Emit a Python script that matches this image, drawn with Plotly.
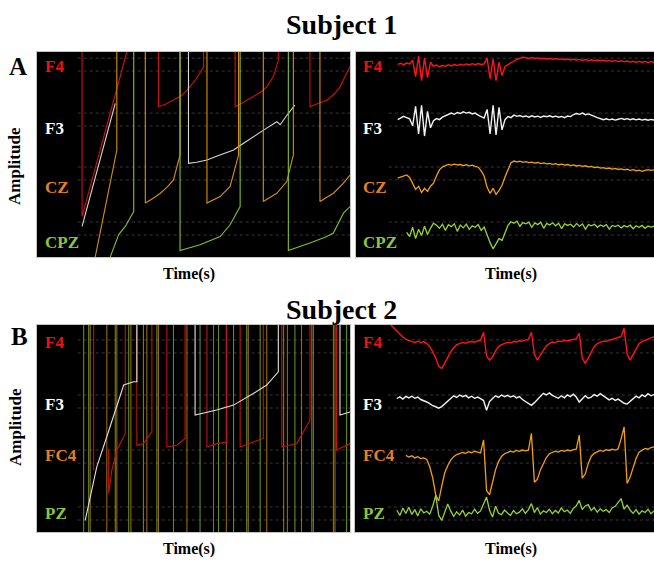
import plotly.graph_objects as go

W, H = 654, 565

# ---------------- Subject 1, right panel (clean EEG) ----------------
a_r_f4_start = 14
a_r_f4 = [94, 94.5, 93.8, 94.6, 94.2,
          96, 88, 98, 86, 97, 87.5, 95,
          93, 93.6, 92.8, 93.4, 93.1, 93.8, 93.2, 93.9, 93.4, 94.0, 93.6, 94.2, 93.7, 94.3, 93.8, 94.4, 93.9, 94.2,
          97, 87, 96.5, 86, 95, 88.5,
          93, 94, 94.8, 95.6, 96.5, 97.2, 97.5,
          97.2, 96.8, 97.3, 96.9, 97.1, 96.6, 97.0, 96.5, 96.9, 96.4, 96.8, 96.3, 96.7, 96.2, 96.6, 96.1, 96.5, 96.0,
          96.4, 95.9, 96.3, 95.8, 96.2, 95.7, 96.1, 95.6, 96.0, 95.5, 95.9, 95.4, 95.8, 95.3, 95.7, 95.2, 95.6, 95.1,
          95.5, 95.0, 95.4, 95.0, 95.4, 94.9, 95.3, 95.0]
a_r_f3_start = 14
a_r_f3 = [67, 67.8, 68.6, 68, 67.4,
          64, 73.5, 60, 74, 59, 71, 63,
          66.5, 67.5, 67.0, 68.2, 69.0, 69.5, 70.2, 69.6, 70.5, 70.0, 70.8, 70.2, 70.6, 69.8, 70.2, 69.2, 68.5, 67.8,
          72, 60, 74, 59.5, 73, 62,
          67, 68.5, 68.0, 69.2, 68.6, 69.0, 68.4,
          68.8, 68.2, 68.9, 68.3, 68.7, 68.1, 68.8, 68.4, 68.9, 68.3, 68.7, 68.2, 68.6, 68.0, 68.8, 68.5, 69.5, 70.0,
          69.6, 70.2, 69.4, 69.8, 69.0, 68.6, 68.0, 67.5, 67.0, 67.4, 66.9, 67.3, 66.8, 67.2, 67.6, 67.1, 67.5, 67.0,
          67.4, 66.9, 67.3, 66.8, 67.2, 66.7, 67.1, 66.8]
a_r_cz_start = 14
a_r_cz = [38.5, 39.0, 39.5, 40.0, 38.8,
          35.5, 33, 34.5, 31.5, 33.5, 32, 34.5,
          36, 39.5, 42.5, 44.0, 44.8,
          45.2, 44.8, 45.3, 44.9, 45.1, 44.6, 45.0, 44.5, 44.8, 44.2, 43.8, 42.0, 39.5,
          34, 31, 33.5, 30.5, 32.5, 35,
          39, 43, 46, 46.8, 46.4, 46.7, 46.2,
          46.5, 46.0, 46.3, 45.8, 46.1, 45.6, 45.9, 45.4, 45.7, 45.2, 45.5, 45.0, 45.3, 44.8, 45.1, 44.6, 44.9, 44.4,
          44.7, 44.2, 44.5, 44.0, 44.2, 43.6, 43.9, 43.4, 43.6, 43.1, 43.4, 42.9, 43.2, 42.7, 43.0, 42.5, 42.8, 42.3,
          42.6, 42.0, 42.4, 41.8, 42.2, 42.6, 42.3, 42.5]
a_r_cpz_start = 17
a_r_cpz = [12, 10, 14.5, 9, 13.5, 10.5, 15, 11, 14,
           16.5, 15.5, 14, 16, 13, 15.8, 14.8, 16.2, 12.5, 15.6, 14.2, 16.0, 13.5, 15.2, 14.5, 15.8, 13.0, 14.6,
           10.5, 7, 4, 6.5, 9, 8, 12,
           15.5, 17.2, 16.5, 17.5, 15.0, 16.8,
           16.2, 17.0, 14.5, 16.6, 15.8, 16.9, 14.0, 16.4, 15.6, 16.7, 15.2, 16.5, 13.8, 16.2, 15.4, 16.0, 14.6, 16.3,
           15.0, 16.1, 13.5, 15.8, 15.2, 16.0, 14.5, 15.6, 14.9, 15.8, 13.6, 15.4, 14.8, 15.5, 14.2, 15.3, 14.6, 15.5,
           13.8, 15.2, 14.5, 15.4, 14.0, 15.1, 14.6, 15.0]

# ---------------- Subject 2, right panel (clean EEG) ----------------
b_r_f4_start = 12
b_r_f4 = [100, 98.5, 97, 95.5, 94.2, 93.2, 92.5, 92.0,
          91.6, 92.2, 91.5, 92.0, 91.0,
          89.5, 87, 84, 80, 79, 81.5, 84.5, 87, 89, 90.5,
          91.0, 91.6, 91.2, 91.8, 92.0, 91.7, 92.3, 92.6,
          96.5, 85, 83, 84.5, 87.5, 89.5, 90.5,
          91.0, 91.6, 91.4, 92.0, 91.8, 92.4, 92.2, 92.8, 93.0,
          96.5, 86, 83, 85.5, 88, 90, 91,
          91.8, 91.5, 92.2, 92.0, 92.6, 92.3, 92.8, 93.0, 93.4,
          96.0, 84, 81.5, 84, 87, 89.5, 91,
          91.6, 92.2, 92.0, 92.8, 93.0, 93.4, 93.8, 94.5,
          98.4, 86, 83, 85.5, 88.5, 91,
          92.0, 92.8, 93.2, 93.8, 94.2]
b_r_f3_start = 14
b_r_f3 = [64.5, 65.3, 64.2, 65.5, 64.8, 65.6, 64.6, 65.2, 64.0, 63.5, 62.8,
          62.0, 61.0, 60.5, 59.8, 60.6, 61.8, 63.0, 64.4, 65.8, 65.0,
          66.2, 65.4, 66.0, 64.8, 65.6, 64.6, 65.2, 64.4, 63.5,
          58.8, 63.0, 64.5, 65.8, 65.0, 66.2, 65.4,
          66.0, 65.2, 65.8, 64.8, 65.4, 64.0, 63.2, 62.0,
          61.2, 62.5, 64.0, 65.6, 67.0, 66.2, 67.2, 66.0,
          65.4, 64.6, 65.8, 64.8, 66.2, 65.4, 66.6, 65.2, 62.8,
          64.5, 65.8, 64.6, 65.2, 66.4, 65.6, 66.8, 65.8, 64.8, 63.8,
          64.6, 63.6, 64.2, 63.0, 62.2, 61.8, 63.2, 64.4,
          65.6, 64.8, 66.2, 65.4, 66.8, 65.8, 66.4]
b_r_fc4_start = 17
b_r_fc4 = [37.0, 36.2, 36.8, 35.8, 36.4, 35.5, 35.8, 35.0,
           31.5, 26, 18, 15, 22, 28.5, 32, 34.7, 36.4, 37.4, 37.9,
           38.4, 38.0, 38.8, 38.3, 39.0, 38.6, 38.2, 44.5,
           20, 18, 24, 30, 34, 36.5, 37.8,
           38.4, 39.0, 38.6, 39.4, 39.0, 39.6, 39.2, 39.5,
           47.6, 24, 25.5, 30, 33, 36, 37.8, 38.6,
           39.0, 38.6, 39.4, 39.0, 39.6, 39.2, 39.8, 40.0,
           46.8, 26, 28, 33, 36.5, 38.0, 38.8,
           39.4, 39.0, 39.8, 39.4, 40.0, 39.6, 40.2, 45,
           50.8, 23.4, 26.5, 31, 35.5, 38.5,
           39.6, 40.4, 40.0, 40.8, 41.1]
b_r_pz_start = 14
b_r_pz = [10.5, 8.0, 11.5, 9.0, 12.0, 8.5, 10.8, 7.8, 11.2, 9.2, 10.0, 8.6,
          12.5, 17.7, 8.0, 5.6, 9.5, 13.5, 10.2, 7.5,
          9.8, 8.2, 10.6, 7.6, 9.4, 8.8, 11.0, 9.0, 10.2,
          14.0, 16.9, 10.5, 7.2, 12.5, 9.0, 8.4, 10.6,
          9.2, 8.0, 10.4, 8.8, 9.6, 11.2, 9.0, 10.8,
          13.7, 9.4, 11.8, 8.6, 10.2, 9.4, 11.0, 8.8,
          10.4, 9.2, 11.6, 9.8, 10.6, 9.0, 11.4, 12.6, 15.3,
          10.8, 12.6, 13.2, 10.4, 11.8, 9.6, 11.2, 10.0, 10.8, 9.4,
          11.6, 12.4, 14.0, 16.1, 11.0, 13.0, 10.6,
          9.0, 10.8, 8.6, 10.2, 9.4, 11.0, 8.8, 10.2]

# ---------------- Subject 1, left panel (raw, wrapping) ----------------
a_l_f4_x = [14.4, 14.4, 28.7, None, 38.8, 38.8, 41, 43.6, 46, 47.9, 50.5, 53.2, 53.2, None,
            63.3, 63.3, 66, 69.1, 71.5, 73.4, 75.5, 77.1, 77.1, None,
            87.2, 87.2, 90, 92.6, 95, 96.8, 98.9, 100]
a_l_f4_y = [100, 19.8, 100, None, 100, 73.3, 74.5, 76.5, 78.5, 81.4, 86, 92.7, 100, None,
            100, 73.3, 75.5, 78.1, 80.5, 83, 88, 96, 100, None,
            100, 73.3, 75, 76.5, 79.5, 83, 89.5, 93]
a_l_f3_x = [14.4, 25.0, None, 48.4, 48.4, 51, 54.3, 58, 62.8, 66, 69.1, 73, 76.6, 77.7, 80, 82.4]
a_l_f3_y = [14.9, 74.9, None, 100, 45.7, 46.2, 47.3, 49.5, 52.2, 55.5, 58.7, 62.5, 66.0, 64.5, 69.5, 74.1]
a_l_cz_x = [18.6, 25.5, 25.5, None, 34.6, 34.6, 37, 39.4, 41.5, 43.6, 45.7, 45.7, None,
            54.3, 54.3, 58.5, 61.7, 64.4, 64.4, None,
            72.3, 72.3, 76.6, 79.8, 81.9, 81.9, None,
            90.4, 90.4, 94.7, 97.9, 100]
a_l_cz_y = [0, 52.2, 100, None, 100, 26.3, 28.5, 31.1, 34, 37.6, 49.8, 100, None,
            100, 26.3, 29.5, 34.4, 49.8, 100, None,
            100, 27.1, 31.1, 36.8, 49.8, 100, None,
            100, 27.1, 31.1, 36, 40]
a_l_cpz_x = [23.4, 26.1, 28.2, 30.9, 30.9, None,
             45.7, 45.7, 52.1, 58.5, 61.7, 64.9, 64.9, None,
             80.3, 80.3, 87.2, 92.6, 94.7, 95.7, 97.9, 100]
a_l_cpz_y = [0, 10.9, 14.9, 22.2, 100, None,
             100, 3.2, 6, 10, 15.7, 24.6, 100, None,
             100, 3.2, 6.8, 10, 11.7, 14.9, 21.4, 24.6]

# ---------------- Subject 2, left panel (raw, wrapping) ----------------
b_l_f4_x = [18.1, 18.1, None, 22.9, 22.9, 23.9, 25.5, 28.2, 28.2, None,
            31.9, 31.9, 34, 36.7, 36.7, None,
            41.5, 41.5, 44.7, 47.3, 47.3, None,
            54.3, 54.3, 57.4, 60.6, 60.6, None,
            64.9, 64.9, 69.1, 72.3, 72.3, None,
            78.2, 78.2, 83, 87.2, 87.2, None,
            95.7, 95.7, 100]
b_l_f4_y = [100, 30, None, 40, 18.5, 29.8, 39.5, 47.6, 100, None,
            100, 41.9, 42.7, 48.4, 100, None,
            100, 41.1, 41.9, 45.2, 100, None,
            100, 41.1, 42.7, 43.5, 100, None,
            100, 41.1, 43.5, 45.2, 100, None,
            100, 41.1, 42.7, 54, 100, None,
            100, 39.5, 42.7]
b_l_f3_x = [15.4, 19.1, 22.3, 25.0, 27.7, 30.9, 31.9, 31.9, None,
            50.5, 50.5, 57.4, 62.8, 69.1, 73.4, 77.1, 77.1, None,
            96.8, 96.8, 100]
b_l_f3_y = [5.6, 31.5, 46, 58.9, 71, 72.6, 72.6, 100, None,
            100, 56.5, 58.9, 61.3, 66.9, 71, 77.4, 100, None,
            100, 56.5, 58]
b_l_pz_vlines = [14.9, 16.5, 25.0, 29.3, 34.0, 38.3, 43.6, 52.1, 58.0, 62.8, 67.0, 71.3, 78.8, 82.4, 87.8, 94.7, 98.9]
b_l_fc4_vlines = [17.0, 22.3, 25.5, 30.0, 35.1, 38.8, 47.9, 56.4, 60.5, 67.5, 73.4, 80.0, 84.5, 88.3, 95.2]

channels_1 = ["F4", "F3", "CZ", "CPZ"]
channels_2 = ["F4", "F3", "FC4", "PZ"]

# ---------------- styling ----------------
RED, WHITE, ORANGE, GREEN = "#ff1414", "#f2f2f2", "#f0a010", "#96d232"
LAB_COL = {"F4": "#ee1111", "F3": "#ffffff", "CZ": "#e8801e", "FC4": "#e8801e",
           "CPZ": "#8cc63f", "PZ": "#8cc63f"}
SERIF = "Liberation Serif, Times New Roman, serif"


def seq(start, ys):
    return [start + i for i in range(len(ys))]


def vlines(xs):
    X, Y = [], []
    for v in xs:
        X += [v, v, None]
        Y += [0, 100, None]
    return X, Y


fig = go.Figure()


def add(x, y, color, ax, width=1.2, opacity=1.0):
    fig.add_trace(go.Scatter(x=x, y=y, mode="lines", line=dict(color=color, width=width),
                             opacity=opacity, xaxis="x" + ax, yaxis="y" + ax,
                             hoverinfo="skip", showlegend=False, connectgaps=False))


# panel 1: A left, 2: A right, 3: B left, 4: B right
add(a_l_f4_x, a_l_f4_y, "#d01010", "1", 1.1)
add(a_l_f3_x, a_l_f3_y, "#d8d8d8", "1", 1.1)
add(a_l_cz_x, a_l_cz_y, "#d89010", "1", 1.1)
add(a_l_cpz_x, a_l_cpz_y, "#82c030", "1", 1.1)

add(seq(a_r_f4_start, a_r_f4), a_r_f4, RED, "2", 1.4)
add(seq(a_r_f3_start, a_r_f3), a_r_f3, WHITE, "2", 1.4)
add(seq(a_r_cz_start, a_r_cz), a_r_cz, ORANGE, "2", 1.3)
add(seq(a_r_cpz_start, a_r_cpz), a_r_cpz, GREEN, "2", 1.3)

vx, vy = vlines(b_l_pz_vlines)
add(vx, vy, "#80b830", "3", 1.1, 0.75)
vx, vy = vlines(b_l_fc4_vlines)
add(vx, vy, "#c88a10", "3", 1.1, 0.75)
add(b_l_f4_x, b_l_f4_y, "#c81010", "3", 1.1)
add(b_l_f3_x, b_l_f3_y, "#e0e0e0", "3", 1.1)

add(seq(b_r_f4_start, b_r_f4), b_r_f4, RED, "4", 1.4)
add(seq(b_r_f3_start, b_r_f3), b_r_f3, WHITE, "4", 1.4)
add(seq(b_r_fc4_start, b_r_fc4), b_r_fc4, ORANGE, "4", 1.3)
add(seq(b_r_pz_start, b_r_pz), b_r_pz, GREEN, "4", 1.3)


def px(x):
    return x / W


def py(y):
    return 1 - y / H


doms = {
    "1": ([px(37), px(350)], [py(257), py(52)]),
    "2": ([px(356), 1.0], [py(257), py(52)]),
    "3": ([px(37), px(350)], [py(532), py(325)]),
    "4": ([px(355), 1.0], [py(532), py(325)]),
}
lay = {}
for k, (dx, dy) in doms.items():
    ax = dict(domain=dx, range=[0, 100], showticklabels=False, showgrid=False, zeroline=False,
              showline=True, mirror=True, linecolor="#c4c4c4", linewidth=1, ticks="",
              fixedrange=True)
    ay = dict(domain=dy, range=[0, 100], showticklabels=False, showgrid=False, zeroline=False,
              showline=True, mirror=True, linecolor="#c4c4c4", linewidth=1, ticks="",
              fixedrange=True)
    ax["anchor"] = "y" + k
    ay["anchor"] = "x" + k
    lay["xaxis" + ("" if k == "1" else k)] = ax
    lay["yaxis" + ("" if k == "1" else k)] = ay
fig.update_layout(**lay)

# dotted grid lines
grid_A = [97, 90.7, 70.2, 63.9, 43.9, 37.6, 17.1, 10.7]
grid_B = [92.8, 86.5, 66.2, 59.9, 39.6, 33.3, 12.1, 5.8]
shapes = []
for k, g, x0 in [("1", grid_A, 13), ("2", grid_A, 11), ("3", grid_B, 13), ("4", grid_B, 11)]:
    for gy in g:
        shapes.append(dict(type="line", xref="x" + k, yref="y" + k, x0=x0, x1=100, y0=gy, y1=gy,
                           line=dict(color="#383838", width=1, dash="dot"), layer="below"))

ann = []


def text(t, x, y, size, color="black", angle=0, xanchor="center"):
    ann.append(dict(text="<b>" + t + "</b>", x=px(x), y=py(y), xref="paper", yref="paper",
                    showarrow=False, xanchor=xanchor, yanchor="middle", textangle=angle,
                    font=dict(family=SERIF, size=size, color=color)))


text("Subject 1", 341, 25, 28)
text("Subject 2", 341, 309, 28)
text("A", 18, 66, 25)
text("B", 19, 336, 25)
text("Amplitude", 15, 166, 17, angle=-90)
text("Amplitude", 15, 427, 17, angle=-90)
text("Time(s)", 189, 274, 16)
text("Time(s)", 511, 274, 16)
text("Time(s)", 189, 549, 16)
text("Time(s)", 511, 549, 16)

ys1 = [67, 128, 188, 242]
ys2 = [342, 404, 455, 513]
for ch, yy in zip(channels_1, ys1):
    text(ch, 43, yy, 17, LAB_COL[ch], xanchor="left")
    text(ch, 361, yy, 17, LAB_COL[ch], xanchor="left")
for ch, yy in zip(channels_2, ys2):
    text(ch, 43, yy, 17, LAB_COL[ch], xanchor="left")
    text(ch, 361, yy, 17, LAB_COL[ch], xanchor="left")

fig.update_layout(width=W, height=H, margin=dict(l=0, r=0, t=0, b=0),
                  paper_bgcolor="white", plot_bgcolor="black",
                  annotations=ann, shapes=shapes, showlegend=False)

fig.write_html("out.html", config={"displayModeBar": False},
               post_script="document.body.style.margin='0';document.body.style.padding='0';")
